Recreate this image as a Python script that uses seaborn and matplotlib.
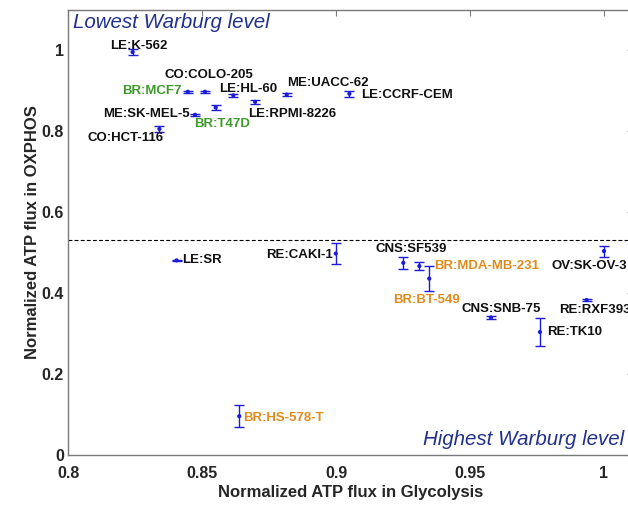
import matplotlib
matplotlib.use("Agg")
import matplotlib.pyplot as plt
import seaborn as sns
import pandas as pd

# Cell lines (tissue:name), glycolytic vs oxidative ATP flux, with OXPHOS error
cell_lines = [
    "LE:K-562", "CO:COLO-205", "BR:MCF7", "LE:HL-60", "ME:UACC-62",
    "LE:CCRF-CEM", "LE:RPMI-8226", "BR:T47D", "ME:SK-MEL-5", "CO:HCT-116",
    "LE:SR", "RE:CAKI-1", "CNS:SF539", "BR:MDA-MB-231", "BR:BT-549",
    "CNS:SNB-75", "RE:TK10", "RE:RXF393", "OV:SK-OV-3", "BR:HS-578-T",
]
glycolysis_flux = [
    0.8241, 0.8511, 0.8447, 0.8617, 0.8816,
    0.9050, 0.8698, 0.8551, 0.8474, 0.8341,
    0.8405, 0.8999, 0.9251, 0.9311, 0.9348,
    0.9578, 0.9761, 0.9935, 1.0000, 0.8639,
]
oxphos_flux = [
    0.996, 0.898, 0.898, 0.889, 0.891,
    0.893, 0.873, 0.859, 0.841, 0.806,
    0.481, 0.498, 0.475, 0.467, 0.436,
    0.340, 0.304, 0.383, 0.504, 0.096,
]
oxphos_err = [
    0.007, 0.002, 0.002, 0.003, 0.003,
    0.007, 0.005, 0.005, 0.002, 0.007,
    0.002, 0.026, 0.014, 0.010, 0.030,
    0.003, 0.035, 0.002, 0.0136, 0.027,
]
# breast subtype groups: luminal (green), basal (orange), others (black)
label_group = [
    "other", "other", "luminal", "other", "other",
    "other", "other", "luminal", "other", "other",
    "other", "other", "other", "basal", "basal",
    "other", "other", "other", "other", "basal",
]
warburg_threshold = 0.531

df = pd.DataFrame({
    "line": cell_lines,
    "glyco": glycolysis_flux,
    "oxphos": oxphos_flux,
    "err": oxphos_err,
    "group": label_group,
})

group_colors = {"other": "#111111", "luminal": "#3f9a2c", "basal": "#e08c1c"}
point_color = "#1c1cd8"

# label placement: (horizontal alignment, dx px, dy px)
label_place = {
    "LE:K-562": ("center", 6, 6.5),
    "CO:COLO-205": ("center", 4, 16.5),
    "BR:MCF7": ("right", -6, 0.5),
    "LE:HL-60": ("left", -14, 6.5),
    "ME:UACC-62": ("left", 0.5, 11.5),
    "LE:CCRF-CEM": ("left", 12, -1.5),
    "LE:RPMI-8226": ("left", -7, -12),
    "BR:T47D": ("left", -22, -17),
    "ME:SK-MEL-5": ("right", -5, 1),
    "CO:HCT-116": ("right", 4, -9.5),
    "LE:SR": ("left", 5.5, 0),
    "RE:CAKI-1": ("right", -2.5, -1),
    "CNS:SF539": ("center", 7.5, 13.5),
    "BR:MDA-MB-231": ("left", 15, 0),
    "BR:BT-549": ("center", -2.5, -21),
    "CNS:SNB-75": ("center", 10.5, 8),
    "RE:TK10": ("left", 7, 0),
    "RE:RXF393": ("left", -27, -10),
    "OV:SK-OV-3": ("left", -52, -14.5),
    "BR:HS-578-T": ("left", 4, -1.5),
}

sns.set_style("white")
plt.rcParams["font.family"] = ["Liberation Sans", "DejaVu Sans"]

fig = plt.figure(figsize=(6.28, 5.05), dpi=100)
ax = fig.add_axes([68 / 628, 50 / 505, 565 / 628, 445 / 505])

ax.errorbar(df["glyco"], df["oxphos"], yerr=df["err"], fmt="none",
            ecolor=point_color, elinewidth=1.0, capsize=3.6, capthick=1.0,
            zorder=3)
sns.scatterplot(data=df, x="glyco", y="oxphos", ax=ax, color=point_color,
                s=9, edgecolor="none", legend=False, zorder=4)

ax.axhline(warburg_threshold, color="black", lw=0.8, ls=(0, (3.5, 2)),
           zorder=2)

for _, row in df.iterrows():
    ha, dx, dy = label_place[row["line"]]
    ax.annotate(row["line"], (row["glyco"], row["oxphos"]),
                xytext=(dx, dy), textcoords="offset pixels",
                ha=ha, va="center", fontsize=9.5, fontweight="bold",
                color=group_colors[row["group"]], zorder=5,
                annotation_clip=False)

ax.text(0.008, 0.971, "Lowest Warburg level", transform=ax.transAxes,
        ha="left", va="center", fontsize=14.8, style="italic", color="#22318a")
ax.text(0.628, 0.034, "Highest Warburg level", transform=ax.transAxes,
        ha="left", va="center", fontsize=14.8, style="italic", color="#22318a")

ax.set_xlim(0.8, 0.8 + 565 / 2680)
ax.set_ylim(0, 1.1)
ax.set_xticks([0.8, 0.85, 0.9, 0.95, 1.0])
ax.set_xticklabels(["0.8", "0.85", "0.9", "0.95", "1"])
ax.set_yticks([0, 0.2, 0.4, 0.6, 0.8, 1.0])
ax.set_yticklabels(["0", "0.2", "0.4", "0.6", "0.8", "1"])

ax.tick_params(direction="in", length=4, width=0.8, color="#7a7a7a",
               top=True, right=True, labelsize=11.5)
for lbl in ax.get_xticklabels() + ax.get_yticklabels():
    lbl.set_fontweight("bold")
ax.tick_params(axis="x", pad=8)
ax.tick_params(axis="y", pad=3)
for sp in ax.spines.values():
    sp.set_color("#7a7a7a")
    sp.set_linewidth(1.0)

ax.set_xlabel("Normalized ATP flux in Glycolysis", fontsize=12,
              fontweight="bold", labelpad=3)
ax.set_ylabel("Normalized ATP flux in OXPHOS", fontsize=12,
              fontweight="bold", labelpad=1)

fig.savefig("out.png", dpi=100)
